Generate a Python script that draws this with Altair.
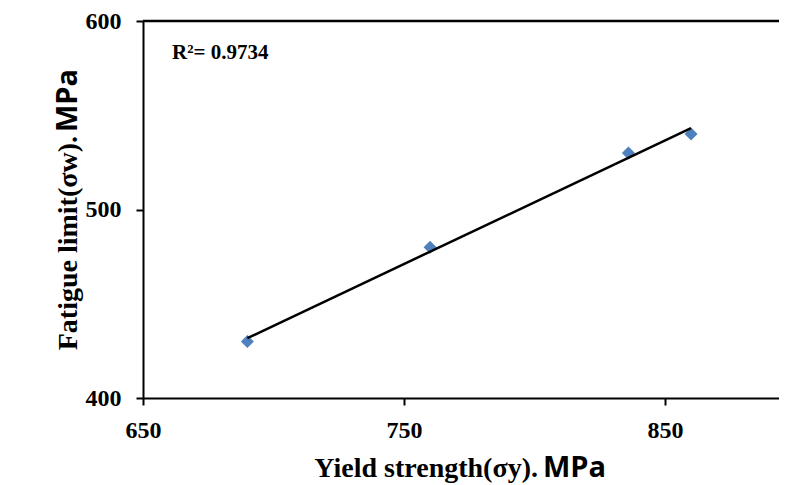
import altair as alt
import pandas as pd

# ---- data ----
yield_strength = [690, 760, 836, 860]      # MPa
fatigue_limit = [430, 480, 530, 540]       # MPa
x_ticks = [650, 750, 850]
y_ticks = [400, 500, 600]
r2_label = ["R²= 0.9734"]
x_title_main = ["Yield strength(σy)."]
x_title_unit = ["MPa"]
y_title_main = ["Fatigue limit(σw)."]
y_title_unit = ["MPa"]

W, H = 636, 377
SERIF = "Liberation Serif"
SANS = "Open Sans"

df = pd.DataFrame({"ys": yield_strength, "fl": fatigue_limit})

xscale = alt.Scale(domain=[650, 893.7], nice=False, zero=False)
yscale = alt.Scale(domain=[400, 600], nice=False, zero=False)

common_axis = dict(
    title=None, grid=False, domainColor="black", domainWidth=2,
    tickColor="black", tickWidth=2, tickSize=7,
    labelFont=SERIF, labelFontWeight="bold", labelFontSize=24,
    labelColor="black", labelFlush=False,
)
xaxis = alt.Axis(values=x_ticks, labelPadding=13, **common_axis)
yaxis = alt.Axis(values=y_ticks, labelPadding=15, **common_axis)

x_enc = alt.X("ys:Q", scale=xscale, axis=xaxis)
y_enc = alt.Y("fl:Q", scale=yscale, axis=yaxis)

base = alt.Chart(df)

points = base.mark_point(
    shape="diamond", filled=True, size=170, color="#4F81BD", opacity=1
).encode(x=x_enc, y=y_enc)

trend = base.transform_regression("ys", "fl").mark_line(
    color="black", strokeWidth=2.5
).encode(x=x_enc, y=y_enc)

top_border = alt.Chart(pd.DataFrame({"k": [0]})).mark_rule(
    color="black", strokeWidth=2.5
).encode(x=alt.value(0), x2=alt.value(W), y=alt.value(0), y2=alt.value(0))

# the reference plot frame is cut off on the right: keep that edge blank
right_edge_blank = alt.Chart(pd.DataFrame({"k": [0]})).mark_rule(
    color="white", strokeWidth=5
).encode(x=alt.value(W), x2=alt.value(W), y=alt.value(2), y2=alt.value(H - 2))


def text_layer(values, **kw):
    pos = {k: kw.pop(k) for k in ("x", "y")}
    return alt.Chart(pd.DataFrame({"t": values})).mark_text(
        color="black", fontWeight="bold", **kw
    ).encode(text="t:N", x=alt.value(pos["x"]), y=alt.value(pos["y"]))


r2 = text_layer(r2_label, x=29, y=38, font=SERIF, fontSize=21,
                align="left", baseline="alphabetic")

xt_main = text_layer(x_title_main, x=395, y=456, font=SERIF, fontSize=28,
                     align="right", baseline="alphabetic")
xt_unit = text_layer(x_title_unit, x=400, y=456, font=SANS, fontSize=29,
                     align="left", baseline="alphabetic")

yt_main = text_layer(y_title_main, x=-66, y=115, font=SERIF, fontSize=28,
                     align="right", baseline="alphabetic", angle=270)
yt_unit = text_layer(y_title_unit, x=-66, y=111, font=SANS, fontSize=29,
                     align="left", baseline="alphabetic", angle=270)

chart = alt.layer(
    points, trend, top_border, r2, xt_main, xt_unit, yt_main, yt_unit,
    right_edge_blank
).properties(
    width=W, height=H,
    autosize="none",
    padding={"left": 135, "top": 13, "right": 0, "bottom": 87},
).configure_view(strokeWidth=0, stroke="transparent")

chart.save("out.html", embed_options={"renderer": "svg", "actions": False})
